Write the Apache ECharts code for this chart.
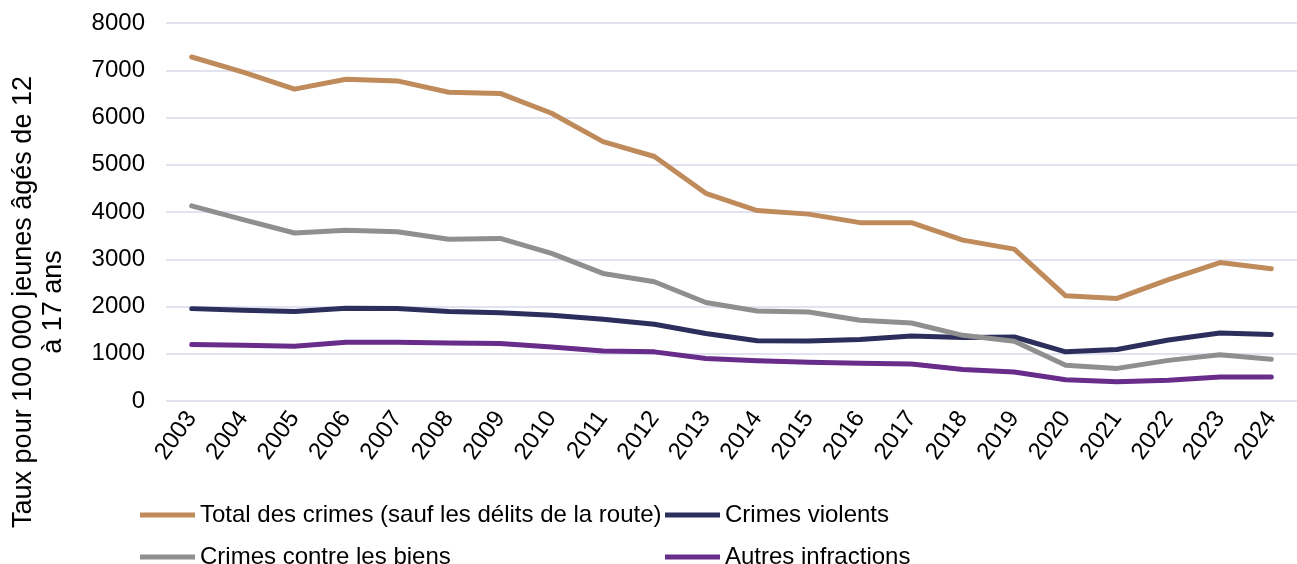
<!DOCTYPE html>
<html>
<head>
<meta charset="utf-8">
<script src="https://cdn.jsdelivr.net/npm/echarts@6/dist/echarts.min.js"></script>
<style>
html, body { margin: 0; padding: 0; background: #fff; }
#root { width: 1297px; height: 564px; }
</style>
</head>
<body>
<div id="root"></div>
<script>
var years = ['2003', '2004', '2005', '2006', '2007', '2008', '2009', '2010', '2011', '2012', '2013',
    '2014', '2015', '2016', '2017', '2018', '2019', '2020', '2021', '2022', '2023', '2024'];
var totalData = [7280, 6960, 6600, 6810, 6775, 6535, 6510, 6090, 5490, 5175, 4395,
    4030, 3955, 3775, 3775, 3405, 3215, 2225, 2170, 2570, 2930, 2800];
var violentData = [1955, 1920, 1895, 1965, 1960, 1895, 1870, 1815, 1730, 1625, 1430,
    1275, 1270, 1300, 1375, 1345, 1355, 1040, 1090, 1290, 1440, 1405];
var propertyData = [4130, 3840, 3555, 3615, 3580, 3425, 3440, 3125, 2700, 2525, 2085,
    1905, 1885, 1710, 1650, 1390, 1265, 755, 690, 860, 980, 885];
var otherData = [1195, 1180, 1160, 1245, 1245, 1230, 1215, 1145, 1060, 1040, 900,
    850, 820, 800, 785, 665, 615, 450, 405, 440, 510, 510];
var yTicks = [0, 1000, 2000, 3000, 4000, 5000, 6000, 7000, 8000];

var names = ['Total des crimes (sauf les délits de la route)', 'Crimes violents',
    'Crimes contre les biens', 'Autres infractions'];
var colors = ['#BF8B5B', '#2C2E5C', '#8F8F8F', '#682C8A'];
var font = 'Arial, "Liberation Sans", sans-serif';

var makeSeries = function (i, data) {
    return {
        name: names[i],
        type: 'line',
        data: data,
        showSymbol: false,
        symbol: 'none',
        lineStyle: { color: colors[i], width: 5, cap: 'round', join: 'round' },
        itemStyle: { color: colors[i] }
    };
};

var makeLegend = function (i, left, top) {
    return {
        data: [names[i]],
        left: left,
        top: top,
        icon: 'rect',
        itemWidth: 55,
        itemHeight: 5,
        itemGap: 0,
        selectedMode: false,
        textStyle: { fontFamily: font, fontSize: 24, color: '#000' }
    };
};

var chart = echarts.init(document.getElementById('root'));
chart.setOption({
    animation: false,
    backgroundColor: '#fff',
    grid: { left: 166, top: 23, width: 1139, height: 378 },
    legend: [
        makeLegend(0, 135, 498),
        makeLegend(1, 660, 498),
        makeLegend(2, 135, 540),
        makeLegend(3, 660, 540)
    ],
    graphic: [{
        type: 'text',
        x: 9,
        y: 302,
        rotation: Math.PI / 2,
        style: {
            text: 'Taux pour 100 000 jeunes âgés de 12\nà 17 ans',
            fontFamily: font,
            fontSize: 27,
            lineHeight: 30,
            fill: '#000',
            align: 'center',
            verticalAlign: 'top'
        }
    }],
    xAxis: {
        type: 'category',
        data: years,
        boundaryGap: true,
        axisLine: { show: false },
        axisTick: { show: false },
        axisLabel: { rotate: 54, fontFamily: font, fontSize: 24, color: '#000', margin: 13, interval: 0 }
    },
    yAxis: {
        type: 'value',
        min: yTicks[0],
        max: yTicks[yTicks.length - 1],
        interval: 1000,
        axisLine: { show: false },
        axisTick: { show: false },
        axisLabel: {
            fontFamily: font, fontSize: 24, color: '#000', margin: 21,
            formatter: function (v) { return String(v); }
        },
        splitLine: { lineStyle: { color: '#D9D9EC', width: 1.5 } }
    },
    series: [
        makeSeries(0, totalData),
        makeSeries(1, violentData),
        makeSeries(2, propertyData),
        makeSeries(3, otherData)
    ]
});
</script>
</body>
</html>
